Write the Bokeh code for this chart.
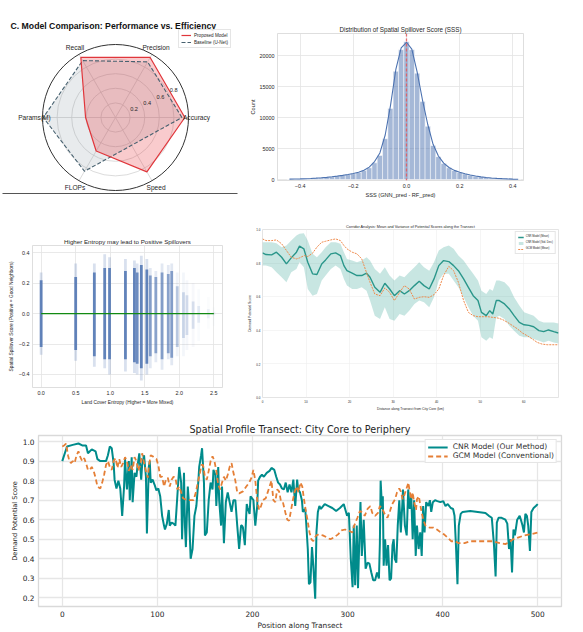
import numpy as np
from bokeh.plotting import figure
from bokeh.layouts import column, row
from bokeh.models import Range1d, Legend, LegendItem, Span, NumeralTickFormatter
from bokeh.core.properties import value
from bokeh.embed import file_html
from bokeh.resources import INLINE

FONT = "Liberation Sans"
WIDE_FONT = "DejaVu Sans"
INK = "#262626"
SNS_BLUE = "#4c72b0"

# ---------------- C. model comparison (radar) ----------------
radar_metrics = ["Accuracy", "Precision", "Recall", "Params(M)", "FLOPs", "Speed"]
proposed_scores = [0.95, 0.95, 0.95, 0.41, 0.53, 0.86]
baseline_scores = [0.91, 0.88, 0.90, 0.99, 0.85, 0.44]
radar_rings = [0.2, 0.4, 0.6, 0.8]
radar_rmax = 1.0

# ---------------- spatial spillover score histogram ----------------
sss_bin_centers = [-0.44, -0.42, -0.40, -0.38, -0.36, -0.34, -0.32, -0.30, -0.28, -0.26, -0.24,
                   -0.22, -0.20, -0.18, -0.16, -0.14, -0.12, -0.10, -0.08, -0.06, -0.04, -0.02,
                   0.00, 0.02, 0.04, 0.06, 0.08, 0.10, 0.12, 0.14, 0.16, 0.18, 0.20, 0.22,
                   0.24, 0.26, 0.28, 0.30, 0.32, 0.34, 0.36, 0.38, 0.40, 0.42]
sss_counts = [40, 60, 90, 120, 160, 210, 270, 340, 430, 540, 660,
              800, 950, 1150, 1450, 1900, 2700, 3900, 6600, 11500, 17500, 21000,
              22300, 21000, 17200, 12600, 8600, 5500, 3700, 2600, 1900, 1450, 1150, 900,
              700, 540, 420, 330, 250, 190, 140, 100, 70, 40]
sss_kde = [60, 80, 100, 130, 170, 220, 280, 350, 440, 550, 670,
           810, 960, 1180, 1500, 2000, 2900, 4300, 7200, 12000, 17800, 21300,
           22200, 21100, 17400, 12900, 8900, 5700, 3800, 2650, 1950, 1480, 1170, 920,
           720, 560, 430, 330, 250, 190, 140, 100, 70, 45]
sss_reference = 0.0

# ---------------- entropy vs spillover ----------------
entropy_levels = [0.00, 0.50, 0.77, 0.92, 0.99, 1.22, 1.35, 1.39, 1.45, 1.53, 1.58,
                  1.66, 1.75, 1.84, 1.89, 1.97, 2.06, 2.11, 2.20, 2.28, 2.42, 2.50]
sss_tail_high = [0.27, 0.33, 0.33, 0.39, 0.37, 0.36, 0.35, 0.33, 0.38, 0.36, 0.30,
                 0.28, 0.33, 0.32, 0.33, 0.27, 0.27, 0.22, 0.20, 0.16, 0.11, 0.04]
sss_tail_low = [-0.27, -0.31, -0.35, -0.36, -0.40, -0.38, -0.39, -0.40, -0.44, -0.40, -0.36,
                -0.32, -0.37, -0.30, -0.34, -0.28, -0.28, -0.24, -0.22, -0.18, -0.10, -0.08]
sss_core_high = [0.22, 0.24, 0.27, 0.30, 0.30, 0.28, 0.30, 0.27, 0.32, 0.29, 0.25,
                 0.24, 0.27, 0.26, 0.28, 0.18, 0.14, 0.12, 0.08, 0.05, 0.03, 0.01]
sss_core_low = [-0.22, -0.24, -0.28, -0.30, -0.30, -0.30, -0.32, -0.33, -0.36, -0.33, -0.28,
                -0.26, -0.30, -0.26, -0.29, -0.22, -0.16, -0.14, -0.10, -0.06, -0.03, -0.01]
column_density = [1.0, 1.0, 1.0, 1.0, 1.0, 1.0, 1.0, 0.9, 1.0, 1.0, 0.75,
                  0.7, 0.75, 0.7, 0.75, 0.4, 0.3, 0.25, 0.22, 0.15, 0.1, 0.08]
trend_entropy = [0.0, 2.5]
trend_sss = [0.0, 0.0]

# ---------------- corridor analysis (km, CNR mean, CNR mean - sd, CNR mean + sd) ----------------
corridor_cnr = [
    (0.0, 0.861, 0.785, 0.924), (0.8, 0.851, 0.785, 0.924), (2.1, 0.849, 0.775, 0.924),
    (3.2, 0.865, 0.746, 0.918), (4.4, 0.835, 0.716, 0.895), (5.5, 0.795, 0.686, 0.905),
    (6.6, 0.831, 0.746, 0.934), (7.8, 0.865, 0.765, 0.964), (8.5, 0.901, 0.805, 0.974),
    (9.5, 0.885, 0.775, 0.978), (10.4, 0.805, 0.646, 0.934), (11.5, 0.736, 0.606, 0.855),
    (12.5, 0.732, 0.616, 0.835), (13.6, 0.795, 0.696, 0.865), (14.5, 0.819, 0.726, 0.895),
    (15.7, 0.855, 0.765, 0.924), (16.8, 0.861, 0.785, 0.924), (17.9, 0.845, 0.765, 0.915),
    (18.7, 0.785, 0.706, 0.865), (19.4, 0.755, 0.666, 0.825), (20.6, 0.740, 0.646, 0.815),
    (21.7, 0.726, 0.646, 0.805), (22.8, 0.726, 0.656, 0.815), (23.9, 0.740, 0.636, 0.835),
    (24.7, 0.716, 0.577, 0.815), (25.8, 0.656, 0.487, 0.765), (27.0, 0.626, 0.467, 0.736),
    (28.1, 0.680, 0.537, 0.775), (29.2, 0.646, 0.467, 0.726), (30.3, 0.606, 0.457, 0.696),
    (31.5, 0.636, 0.497, 0.726), (32.6, 0.616, 0.487, 0.716), (33.7, 0.636, 0.517, 0.746),
    (34.9, 0.666, 0.557, 0.775), (36.0, 0.692, 0.577, 0.805), (37.1, 0.666, 0.567, 0.775),
    (38.3, 0.646, 0.537, 0.755), (39.4, 0.706, 0.596, 0.805), (40.5, 0.785, 0.696, 0.875),
    (41.6, 0.815, 0.736, 0.895), (42.8, 0.809, 0.736, 0.905), (43.9, 0.785, 0.696, 0.885),
    (45.0, 0.755, 0.656, 0.845), (46.2, 0.706, 0.596, 0.815), (47.3, 0.656, 0.537, 0.775),
    (48.4, 0.606, 0.487, 0.736), (49.5, 0.577, 0.457, 0.696), (50.3, 0.507, 0.358, 0.636),
    (51.4, 0.487, 0.338, 0.616), (52.2, 0.517, 0.358, 0.646), (52.9, 0.497, 0.348, 0.636),
    (53.7, 0.577, 0.477, 0.696), (54.4, 0.577, 0.487, 0.696), (55.6, 0.557, 0.467, 0.686),
    (56.7, 0.527, 0.427, 0.656), (57.8, 0.487, 0.398, 0.596), (59.0, 0.447, 0.368, 0.547),
    (60.1, 0.433, 0.358, 0.507), (61.2, 0.429, 0.358, 0.497), (62.3, 0.421, 0.348, 0.487),
    (63.5, 0.398, 0.338, 0.457), (64.6, 0.392, 0.328, 0.447), (65.7, 0.402, 0.338, 0.447),
    (66.9, 0.392, 0.328, 0.447), (68.0, 0.384, 0.322, 0.441),
]
corridor_gcm = [
    (0.0, 0.944), (0.8, 0.934), (2.1, 0.934), (3.2, 0.938), (4.4, 0.915), (5.5, 0.875),
    (6.6, 0.835), (7.8, 0.825), (8.5, 0.831), (9.6, 0.845), (10.4, 0.839), (11.5, 0.859),
    (12.5, 0.895), (13.6, 0.924), (14.5, 0.930), (15.7, 0.938), (16.8, 0.944), (17.9, 0.934),
    (18.7, 0.905), (19.4, 0.885), (20.6, 0.865), (21.7, 0.855), (22.8, 0.825), (23.6, 0.765),
    (24.7, 0.686), (25.8, 0.616), (27.0, 0.606), (28.1, 0.652), (29.2, 0.626), (30.3, 0.577),
    (31.5, 0.626), (32.6, 0.666), (33.7, 0.646), (34.9, 0.586), (36.0, 0.596), (37.1, 0.600),
    (38.3, 0.596), (39.4, 0.612), (40.5, 0.646), (41.6, 0.726), (42.8, 0.781), (43.9, 0.755),
    (45.0, 0.686), (46.2, 0.577), (47.3, 0.507), (48.4, 0.487), (49.5, 0.481), (50.7, 0.481),
    (51.8, 0.481), (52.9, 0.477), (54.1, 0.473), (55.2, 0.463), (56.3, 0.447), (57.5, 0.427),
    (58.6, 0.408), (59.7, 0.384), (60.8, 0.368), (62.0, 0.348), (63.1, 0.328), (64.2, 0.318),
    (65.4, 0.314), (66.5, 0.314), (68.0, 0.314),
]

# ---------------- spatial profile transect (position, score) ----------------
cnr_profile = [
    (0, 0.90), (5, 0.975), (11, 0.983), (17, 0.99), (21, 0.98), (25, 0.98), (27, 0.94),
    (31, 0.96), (35, 0.95), (37, 0.91), (40, 0.90), (46, 0.90), (48, 0.93), (50, 0.975),
    (52, 0.966), (54, 0.89), (55, 0.805), (57, 0.76), (59, 0.80), (61, 0.76), (63, 0.62),
    (65, 0.77), (66, 0.91), (68, 0.755), (70, 0.90), (71, 0.70), (73, 0.92), (74, 0.69),
    (76, 0.84), (78, 0.82), (79, 0.87), (81, 0.94), (83, 0.805), (84, 0.88), (86, 0.93),
    (88, 0.82), (89, 0.53), (91, 0.87), (92, 0.90), (93, 0.79), (95, 0.805), (97, 0.78),
    (99, 0.75), (101, 0.76), (103, 0.72), (105, 0.62), (107, 0.57), (108, 0.55), (110, 0.58),
    (112, 0.65), (113, 0.57), (115, 0.585), (117, 0.58), (119, 0.57), (121, 0.72), (123, 0.87),
    (125, 0.79), (126, 0.50), (128, 0.84), (129, 0.57), (130, 0.46), (132, 0.77), (133, 0.70),
    (134, 0.535), (135, 0.40), (137, 0.45), (139, 0.62), (141, 0.67), (143, 0.79), (144, 0.87),
    (146, 0.93), (147, 0.966), (149, 0.79), (150, 0.52), (152, 0.535), (154, 0.70), (156, 0.79),
    (158, 0.755), (159, 0.855), (161, 0.83), (162, 0.67), (164, 0.87), (165, 0.70), (167, 0.57),
    (168, 0.77), (170, 0.48), (172, 0.69), (174, 0.74), (176, 0.69), (178, 0.64), (180, 0.70),
    (182, 0.70), (184, 0.57), (186, 0.45), (188, 0.57), (189, 0.57), (190, 0.56), (192, 0.47),
    (194, 0.68), (195, 0.66), (197, 0.63), (198, 0.72), (201, 0.70), (203, 0.57), (205, 0.67),
    (206, 0.80), (208, 0.82), (210, 0.83), (212, 0.82), (215, 0.84), (218, 0.85), (220, 0.865),
    (223, 0.855), (225, 0.82), (227, 0.79), (229, 0.78), (231, 0.76), (233, 0.755), (235, 0.79),
    (237, 0.74), (239, 0.78), (241, 0.74), (243, 0.805), (245, 0.67), (247, 0.805), (248, 0.755),
    (250, 0.74), (252, 0.70), (253, 0.64), (255.5, 0.655), (256.3, 0.60), (258.2, 0.45),
    (259.4, 0.27), (261, 0.28), (262.6, 0.46), (264, 0.365), (266, 0.196), (267.3, 0.535),
    (268.8, 0.64), (270.4, 0.67), (272, 0.655), (276, 0.68), (280, 0.67), (284, 0.66),
    (288, 0.645), (292, 0.66), (296, 0.68), (297.5, 0.655), (299.5, 0.62), (301.4, 0.635),
    (303.4, 0.40), (305.3, 0.255), (306.5, 0.57), (308, 0.265), (309.7, 0.57), (311, 0.25),
    (312.4, 0.50), (313.6, 0.69), (315, 0.415), (317, 0.60), (319, 0.35), (321, 0.38),
    (323, 0.375), (325, 0.33), (327, 0.29), (329, 0.29), (331, 0.33), (333, 0.30), (334, 0.48),
    (334.8, 0.80), (336.3, 0.655), (337.1, 0.72), (338, 0.365), (339.5, 0.50), (341, 0.365),
    (342.6, 0.47), (344.2, 0.29), (345.8, 0.30), (347.3, 0.47), (348.5, 0.50), (349.7, 0.40),
    (351.3, 0.38), (352.8, 0.57), (354.4, 0.70), (356, 0.535), (357.5, 0.67), (358.3, 0.755),
    (360.3, 0.57), (362.2, 0.52), (363.8, 0.755), (365.4, 0.655), (367, 0.72), (368.5, 0.50),
    (370, 0.70), (371.7, 0.415), (373, 0.57), (374.8, 0.45), (376.4, 0.535), (378, 0.415),
    (379.5, 0.67), (381, 0.535), (382.7, 0.69), (385, 0.67), (386.6, 0.70), (388, 0.64),
    (389.7, 0.69), (392, 0.70), (394.4, 0.695), (397.6, 0.69), (400.7, 0.695), (403, 0.67),
    (405.4, 0.68), (408.6, 0.66), (411, 0.655), (412.5, 0.62), (414, 0.47), (415.6, 0.27),
    (417, 0.57), (419, 0.63), (421, 0.64), (429, 0.645), (437, 0.64), (445, 0.635),
    (448.6, 0.62), (451.7, 0.61), (454, 0.47), (455.7, 0.31), (457, 0.585), (458.8, 0.61),
    (462, 0.61), (466, 0.60), (468, 0.58), (469.8, 0.45), (471.4, 0.50), (473, 0.33),
    (474.5, 0.55), (476, 0.52), (478.4, 0.60), (481, 0.62), (482.3, 0.60), (484, 0.57),
    (485.5, 0.535), (487, 0.63), (488.6, 0.62), (490, 0.57), (491.8, 0.44), (493.3, 0.64),
    (495.7, 0.66), (498, 0.67), (500, 0.68),
]
gcm_profile = [
    (0, 0.975), (2, 0.98), (4, 0.99), (6, 0.93), (7.5, 0.90), (9, 0.89), (11, 0.90), (13, 0.89),
    (15, 0.93), (17, 0.95), (19, 0.92), (21, 0.90), (23, 0.915), (25, 0.89), (27, 0.855),
    (29, 0.855), (31, 0.87), (33, 0.85), (35, 0.815), (37, 0.77), (40, 0.76), (42, 0.79),
    (44, 0.83), (46, 0.88), (48, 0.90), (50, 0.87), (52, 0.855), (54, 0.90), (56, 0.915),
    (58, 0.865), (60, 0.91), (62, 0.87), (64, 0.89), (66, 0.92), (68, 0.90), (70, 0.85),
    (72, 0.88), (74, 0.855), (76, 0.92), (78, 0.90), (80, 0.85), (82, 0.88), (84, 0.94),
    (86, 0.89), (88, 0.85), (90, 0.815), (91, 0.87), (93, 0.93), (95, 0.925), (97, 0.915),
    (99, 0.91), (101, 0.88), (103, 0.82), (105, 0.82), (107, 0.77), (109, 0.805), (111, 0.815),
    (113, 0.77), (115, 0.805), (117, 0.82), (119, 0.815), (121, 0.755), (123, 0.77), (125, 0.74),
    (127, 0.71), (131, 0.70), (135, 0.70), (138, 0.70), (140.5, 0.74), (142.5, 0.79),
    (144.4, 0.83), (146.4, 0.88), (148, 0.88), (150, 0.82), (152, 0.805), (154, 0.85),
    (156, 0.90), (158, 0.925), (160, 0.90), (162, 0.85), (164, 0.78), (166, 0.755), (168, 0.79),
    (170, 0.82), (172, 0.80), (174, 0.83), (176, 0.87), (178, 0.89), (180, 0.84), (182, 0.80),
    (184, 0.74), (186, 0.735), (190, 0.745), (193.5, 0.77), (196.6, 0.79), (199, 0.815),
    (201, 0.855), (203, 0.80), (205, 0.70), (207, 0.65), (209, 0.67), (211, 0.70), (214, 0.71),
    (216, 0.74), (218, 0.77), (220, 0.80), (222, 0.70), (224, 0.69), (226, 0.755), (228, 0.745),
    (230, 0.695), (232, 0.69), (234.7, 0.635), (236.7, 0.60), (238.6, 0.595), (240.6, 0.65),
    (242.5, 0.70), (244.5, 0.745), (246.5, 0.77), (248.4, 0.74), (250.4, 0.79), (252.4, 0.77),
    (254, 0.71), (256, 0.65), (258, 0.595), (260, 0.535), (262, 0.50), (264, 0.49), (267, 0.52),
    (270, 0.525), (274, 0.52), (278, 0.51), (282, 0.50), (286, 0.51), (290, 0.525),
    (293.6, 0.545), (297.5, 0.55), (301, 0.545), (305, 0.535), (307, 0.57), (310.4, 0.61),
    (313, 0.645), (316, 0.635), (318, 0.62), (321, 0.655), (324, 0.67), (326, 0.635),
    (329, 0.62), (332, 0.635), (334, 0.67), (336.7, 0.655), (339, 0.63), (342, 0.61),
    (344.6, 0.645), (347, 0.68), (350, 0.705), (352, 0.74), (354.4, 0.76), (356, 0.745),
    (358, 0.705), (360, 0.73), (362, 0.76), (364, 0.79), (365, 0.755), (367, 0.705),
    (368.5, 0.74), (370, 0.69), (372, 0.65), (373, 0.705), (375, 0.72), (376, 0.69),
    (378, 0.635), (380, 0.595), (382, 0.57), (386, 0.56), (390, 0.56), (394, 0.55),
    (398, 0.535), (401.5, 0.525), (405, 0.51), (409, 0.49), (413, 0.49), (417, 0.48),
    (423, 0.48), (429, 0.49), (437, 0.49), (445, 0.49), (452.5, 0.49), (460, 0.48),
    (466, 0.475), (470, 0.485), (474, 0.50), (480, 0.51), (486, 0.52), (492, 0.525), (500, 0.535),
]


def new_fig(width, height, xr, yr, borders, title=None, **kw):
    left, right, top, bottom = borders
    return figure(width=width, height=height, x_range=Range1d(*xr), y_range=Range1d(*yr),
                  min_border_left=left, min_border_right=right,
                  min_border_top=top, min_border_bottom=bottom, frame_align=False,
                  title=title, output_backend="svg", toolbar_location=None, **kw)


def style(p, font, tick_px, label_px, title_px, title_standoff, tick_standoff, label_standoff,
          grid_color="#e3e3e3", grid_width=0.8, outline="#d5d5d5", outline_width=0.8):
    p.background_fill_color = "white"
    p.border_fill_color = "white"
    p.outline_line_color = outline
    p.outline_line_width = outline_width
    p.title.text_font = font
    p.title.text_font_size = f"{title_px}px"
    p.title.text_font_style = "normal"
    p.title.text_color = INK
    p.title.align = "center"
    p.title.standoff = title_standoff
    for ax in p.axis:
        ax.axis_line_color = None
        ax.major_tick_line_color = None
        ax.minor_tick_line_color = None
        ax.major_tick_out = 0
        ax.major_tick_in = 0
        ax.minor_tick_out = 0
        ax.minor_tick_in = 0
        ax.major_label_text_font = font
        ax.major_label_text_font_size = f"{tick_px}px"
        ax.major_label_text_color = INK
        ax.major_label_standoff = tick_standoff
        ax.axis_label_text_font = font
        ax.axis_label_text_font_size = f"{label_px}px"
        ax.axis_label_text_font_style = "normal"
        ax.axis_label_text_color = INK
        ax.axis_label_standoff = label_standoff
    p.grid.grid_line_color = grid_color
    p.grid.grid_line_width = grid_width


# ================= radar panel =================
R_PX = 73.0
CX, CY = 115.0, 117.0
radar = figure(width=240, height=200,
               x_range=Range1d(-CX / R_PX, (240 - CX) / R_PX),
               y_range=Range1d(-(200 - CY) / R_PX, CY / R_PX),
               x_axis_type=None, y_axis_type=None, min_border=0, frame_align=False,
               output_backend="svg", toolbar_location=None)
radar.outline_line_color = None
radar.background_fill_color = "white"
radar.border_fill_color = "white"

n_axes = len(radar_metrics)
theta = np.array([2 * np.pi * i / n_axes for i in range(n_axes)])
cos_t, sin_t = np.cos(theta), np.sin(theta)


def closed_polygon(vals):
    xs = [float(v * c) for v, c in zip(vals, cos_t)]
    ys = [float(v * s) for v, s in zip(vals, sin_t)]
    return xs + xs[:1], ys + ys[:1]


radar.circle(x=[0] * len(radar_rings), y=[0] * len(radar_rings), radius=radar_rings,
             fill_color=None, line_color="#d2d2d2", line_width=0.8)
radar.segment(x0=[0] * n_axes, y0=[0] * n_axes, x1=list(cos_t * radar_rmax), y1=list(sin_t * radar_rmax),
              line_color="#d2d2d2", line_width=0.8)

bx, by = closed_polygon(baseline_scores)
px, py = closed_polygon(proposed_scores)
radar.patch(bx, by, fill_color="#8d99a6", fill_alpha=0.2, line_color=None)
radar.patch(px, py, fill_color="#e8383d", fill_alpha=0.26, line_color=None)
base_line = radar.line(bx, by, line_color="#46606f", line_dash="4 2", line_width=1.1)
prop_line = radar.line(px, py, line_color="#e0363b", line_width=1.2)

radar.circle(x=[0], y=[0], radius=[radar_rmax], fill_color=None, line_color="#333333", line_width=1.0)

tick_ang = np.deg2rad(25)
radar.text(x=[(r + 0.08) * np.cos(tick_ang) for r in radar_rings],
           y=[(r + 0.08) * np.sin(tick_ang) for r in radar_rings],
           text=[f"{r:.1f}" for r in radar_rings], text_font=value(FONT), text_font_size="5.6px",
           text_color=INK, text_align="center", text_baseline="middle")
radar.text(x=list(cos_t * 1.11), y=list(sin_t * 1.11), text=radar_metrics, text_font=value(FONT),
           text_font_size="6.6px", text_color=INK, text_align="center", text_baseline="middle")
radar.text(x=[(10 - CX) / R_PX], y=[(CY - 25) / R_PX],
           text=["C. Model Comparison: Performance vs. Efficiency"], text_font=value(FONT),
           text_font_size="8.7px", text_font_style="bold", text_color="#111111",
           text_align="left", text_baseline="middle")
radar.segment(x0=[(2 - CX) / R_PX], y0=[(CY - 193) / R_PX], x1=[(237 - CX) / R_PX], y1=[(CY - 193) / R_PX],
              line_color="#555555", line_width=1.2)

radar_legend = Legend(items=[LegendItem(label="Proposed Model", renderers=[prop_line]),
                             LegendItem(label="Baseline (U-Net)", renderers=[base_line])],
                      location=(178, 152), label_text_font=FONT, label_text_font_size="4.6px",
                      label_text_color=INK, glyph_width=10, glyph_height=6, label_height=6,
                      label_standoff=3, spacing=1, padding=2, margin=0,
                      border_line_color="#cccccc", border_line_width=0.6, background_fill_alpha=0.9)
radar.add_layout(radar_legend)

# ================= histogram panel =================
hist = new_fig(343, 200, (-0.485, 0.44), (-160, 23620), (37, 60, 33, 18),
               title="Distribution of Spatial Spillover Score (SSS)")
hist.vbar(x=sss_bin_centers, top=sss_counts, bottom=0, width=0.02, fill_color=SNS_BLUE,
          fill_alpha=0.5, line_color="white", line_width=0.5)
hist.line(sss_bin_centers, sss_kde, line_color=SNS_BLUE, line_width=1.1)
hist.add_layout(Span(location=sss_reference, dimension="height", line_color="#e8575a",
                     line_alpha=0.85, line_dash="3 2", line_width=1.3))
hist.xaxis.ticker = [-0.4, -0.2, 0.0, 0.2, 0.4]
hist.xaxis.major_label_overrides = {-0.4: "\u22120.4", -0.2: "\u22120.2", 0: "0.0", 0.2: "0.2", 0.4: "0.4"}
hist.yaxis.ticker = [0, 5000, 10000, 15000, 20000]
hist.xaxis.axis_label = "SSS (GNN_pred - RF_pred)"
hist.yaxis.axis_label = "Count"
style(hist, FONT, 5.4, 5.6, 6.3, 2, 3, 1)

# ================= entropy scatter panel =================
scat = new_fig(245, 215, (-0.125, 2.625), (-0.486, 0.448), (32, 23, 45, 28),
               title="Higher Entropy may lead to Positive Spillovers")
scat.vbar(x=entropy_levels, bottom=sss_tail_low, top=sss_tail_high, width=0.04,
          fill_color=SNS_BLUE, fill_alpha=[0.22 * d for d in column_density], line_color=None)
scat.vbar(x=entropy_levels, bottom=sss_core_low, top=sss_core_high, width=0.04,
          fill_color=SNS_BLUE, fill_alpha=[0.85 * d for d in column_density], line_color=None)
scat.line(trend_entropy, trend_sss, line_color="#128a12", line_width=1.2)
scat.xaxis.ticker = [0.0, 0.5, 1.0, 1.5, 2.0, 2.5]
scat.xaxis.formatter = NumeralTickFormatter(format="0.0")
scat.yaxis.ticker = [-0.4, -0.2, 0.0, 0.2, 0.4]
scat.yaxis.major_label_overrides = {-0.4: "\u22120.4", -0.2: "\u22120.2", 0: "0.0", 0.2: "0.2", 0.4: "0.4"}
scat.xaxis.axis_label = "Land Cover Entropy (Higher = More Mixed)"
scat.yaxis.axis_label = "Spatial Spillover Score (Positive = Good Neighbors)"
style(scat, FONT, 5.4, 4.8, 6.2, 2, 3, 2)

# ================= corridor panel =================
c_km, c_mean, c_low, c_high = (list(v) for v in zip(*corridor_cnr))
g_km, g_mean = (list(v) for v in zip(*corridor_gcm))
corr = new_fig(338, 215, (0, 68), (0, 1.0), (12, 25, 29, 18),
               title="Corridor Analysis: Mean and Variance of Potential Scores along the Transect")
band = corr.varea(x=c_km, y1=c_low, y2=c_high, fill_color="#2a9d8f", fill_alpha=0.26)
mean_line = corr.line(c_km, c_mean, line_color="#2a968a", line_width=1.4)
gcm_line = corr.line(g_km, g_mean, line_color="#ee8a4c", line_width=1.0, line_dash="2 1")
corr.xaxis.ticker = [0, 10, 20, 30, 40, 50, 60]
corr.yaxis.ticker = [0.0, 0.2, 0.4, 0.6, 0.8, 1.0]
corr.yaxis.formatter = NumeralTickFormatter(format="0.0")
corr.xaxis.axis_label = "Distance along Transect from City Core (km)"
corr.yaxis.axis_label = "Demand Potential Score"
style(corr, FONT, 3.0, 3.4, 3.8, 2, 2, 1, grid_color="#eeeeee", grid_width=0.6, outline="#dddddd")
corr.add_layout(Legend(items=[LegendItem(label="CNR Model (Mean)", renderers=[mean_line]),
                              LegendItem(label="CNR Model (Std. Dev.)", renderers=[band]),
                              LegendItem(label="GCM Model (Mean)", renderers=[gcm_line])],
                       location="top_right", label_text_font=FONT, label_text_font_size="2.7px",
                       label_text_color=INK, glyph_width=6, glyph_height=4, label_height=5,
                       label_standoff=2, spacing=1, padding=2, margin=2,
                       border_line_color="#cccccc", border_line_width=0.5))

# ================= transect profile panel =================
cnr_pos, cnr_score = (list(v) for v in zip(*cnr_profile))
gcm_pos, gcm_score = (list(v) for v in zip(*gcm_profile))
prof = new_fig(583, 217, (-25, 525), (0.156, 1.031), (38, 22, 20, 24),
               title="Spatial Profile Transect: City Core to Periphery")
cnr_line = prof.line(cnr_pos, cnr_score, line_color="#008b8b", line_width=2.0)
gcm_prof_line = prof.line(gcm_pos, gcm_score, line_color="#e57f36", line_width=1.8, line_dash="5 3")
prof.xaxis.ticker = [0, 100, 200, 300, 400, 500]
prof.yaxis.ticker = [0.2, 0.3, 0.4, 0.5, 0.6, 0.7, 0.8, 0.9, 1.0]
prof.yaxis.formatter = NumeralTickFormatter(format="0.0")
prof.xaxis.axis_label = "Position along Transect"
prof.yaxis.axis_label = "Demand Potential Score"
style(prof, WIDE_FONT, 7.4, 7.4, 9.6, 2, 4, 1, grid_color="#e6e6e6", grid_width=1.3,
      outline="#d9d9d9", outline_width=1.3)
prof.yaxis.axis_label_text_font_size = "6.6px"
prof.add_layout(Legend(items=[LegendItem(label="CNR Model (Our Method)", renderers=[cnr_line]),
                              LegendItem(label="GCM Model (Conventional)", renderers=[gcm_prof_line])],
                       location="top_right", label_text_font=WIDE_FONT, label_text_font_size="7.6px",
                       label_text_color="#333333", glyph_width=20, glyph_height=8, label_height=8,
                       label_standoff=5, spacing=0, padding=2, margin=4,
                       border_line_color="#cccccc", border_line_width=0.8))

layout = column(row(radar, hist), row(scat, corr), prof)

with open("out.html", "w") as fh:
    fh.write(file_html(layout, INLINE))
